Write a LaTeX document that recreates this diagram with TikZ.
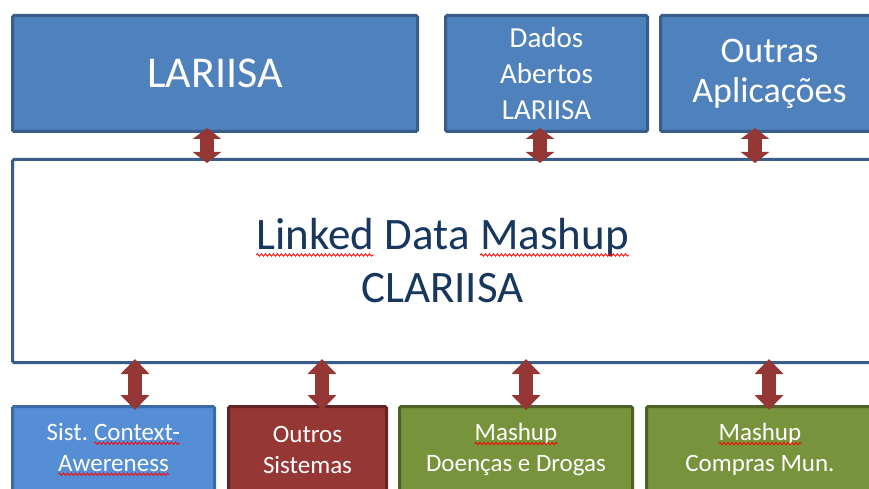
\documentclass[tikz,border=0pt]{standalone}
\usepackage{fontspec}
\setmainfont{Carlito}
\usetikzlibrary{arrows.meta,decorations.pathmorphing}
\definecolor{topblue}{HTML}{4F81BD}
\definecolor{topblueedge}{HTML}{385D8A}
\definecolor{sistblue}{HTML}{558ED5}
\definecolor{sistedge}{HTML}{3A6AA8}
\definecolor{redfill}{HTML}{953735}
\definecolor{rededge}{HTML}{632523}
\definecolor{greenfill}{HTML}{77933C}
\definecolor{greenedge}{HTML}{4F6228}
\definecolor{navytext}{HTML}{17375E}
\definecolor{spell}{HTML}{FF0000}
\tikzset{wordbox/.style={inner sep=0pt, outer sep=0pt, minimum width=0pt, minimum height=0pt, draw=none, fill=none, line width=0.4pt, rounded corners=0pt}}
\newcommand\redsq[2][4pt]{\tikz[baseline=(w.base)]{\node[wordbox] (w) {#2};\draw[spell,line width=0.8pt,rounded corners=0pt,decorate,decoration={snake,amplitude=1.2pt,segment length=4pt}] ([yshift=-#1]w.base west) -- ([yshift=-#1]w.base east);}}
\begin{document}
\begin{tikzpicture}[x=1pt,y=-1pt,
  box/.style={draw, line width=3pt, inner sep=0pt, align=center, rounded corners=1.5pt},
  topbox/.style={box, fill=topblue, draw=topblueedge, text=white, minimum height=116pt},
  midbox/.style={box, fill=white, draw=topblueedge, text=navytext},
  botbox/.style={box, text=white, minimum height=86pt, font=\fontsize{25}{31}\selectfont},
  sistbox/.style={botbox, fill=sistblue, draw=sistedge},
  redbox/.style={botbox, fill=redfill, draw=rededge},
  greenbox/.style={botbox, fill=greenfill, draw=greenedge},
  arrtop/.style={draw=redfill, line width=14pt, {Triangle[width=28pt,length=11pt]}-{Triangle[width=28pt,length=11pt]}, shorten <=-5pt, shorten >=-5pt},
  arrbot/.style={draw=redfill, line width=14pt, {Triangle[width=28pt,length=15pt]}-{Triangle[width=28pt,length=15pt]}, shorten <=-5pt, shorten >=-5pt}
]
\useasboundingbox (0,0) rectangle (869,489);
\clip (0,0) rectangle (869,489);
\fill[white] (0,0) rectangle (869,489);

\node[topbox, minimum width=405pt, font=\fontsize{44}{53}\selectfont] (lar) at (215,73.5) {LARIISA};
\node[topbox, minimum width=202pt, font=\fontsize{29}{36}\selectfont] (dados) at (546.5,73.5) {Dados\\Abertos\\LARIISA};
\node[topbox, minimum width=218pt, font=\fontsize{36}{40}\selectfont] (outras) at (769.5,73.5) {Outras\\Aplicações};

\node[midbox, minimum width=860pt, minimum height=203pt, font=\fontsize{45}{53}\selectfont] (mid) at (442.5,261) {\redsq[5pt]{Linked} Data \redsq[5pt]{Mashup}\\CLARIISA};

\node[sistbox, minimum width=202pt] (sist) at (113.5,449.5) {Sist.\ \redsq[3pt]{Context-}\\\redsq[3pt]{Awereness}};
\node[redbox, minimum width=158pt] (outros) at (307.5,449.5) {Outros\\Sistemas};
\node[greenbox, minimum width=233pt] (doencas) at (516,449.5) {\redsq[3pt]{Mashup}\\Doenças e Drogas};
\node[greenbox, minimum width=227pt] (compras) at (760,449.5) {\redsq[3pt]{Mashup}\\Compras Mun.};

\draw[arrtop] ([xshift=-8pt]lar.south) -- ([xshift=-8pt]lar.south |- mid.north);
\draw[arrtop] ([xshift=-6.5pt]dados.south) -- ([xshift=-6.5pt]dados.south |- mid.north);
\draw[arrtop] ([xshift=-14.5pt]outras.south) -- ([xshift=-14.5pt]outras.south |- mid.north);

\draw[arrbot] ([xshift=21.5pt]sist.north |- mid.south) -- ([xshift=21.5pt]sist.north);
\draw[arrbot] ([xshift=14.5pt]outros.north |- mid.south) -- ([xshift=14.5pt]outros.north);
\draw[arrbot] ([xshift=10pt]doencas.north |- mid.south) -- ([xshift=10pt]doencas.north);
\draw[arrbot] ([xshift=9pt]compras.north |- mid.south) -- ([xshift=9pt]compras.north);
\end{tikzpicture}
\end{document}
